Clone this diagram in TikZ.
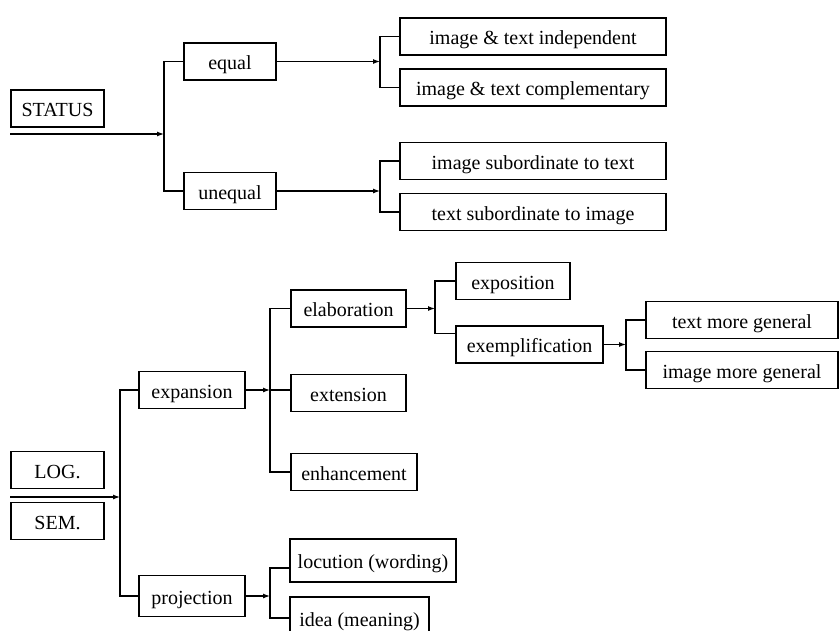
\documentclass[tikz,border=0pt]{standalone}
\usepackage{fontspec}
\setmainfont{Liberation Serif}
\usetikzlibrary{arrows.meta}

\begin{document}
\begin{tikzpicture}[x=1pt,y=-1pt,
        box/.style={draw, line width=1.2pt, minimum height=37pt, inner sep=0pt, text height=20pt, text depth=4pt, font=\fontsize{20}{24}\selectfont},
        link/.style={line width=1.2pt},
        arr/.style={link, -{Latex[length=7pt,width=5pt]}}]
        \useasboundingbox (0,0) rectangle (840,630);
        \clip (0,0) rectangle (840,630);

        % Status system
        \node[box, minimum width=93pt] (status) at (57.5,108.5) {STATUS};
        \node[box, minimum width=92pt] (equal) at (230,61.5) {equal};
        \node[box, minimum width=92pt] (unequal) at (230,191) {unequal};
        \node[box, minimum width=266pt] (indep) at (533,36.5) {image \& text independent};
        \node[box, minimum width=266pt] (compl) at (533,87.5) {image \& text complementary};
        \node[box, minimum width=266pt] (imgsub) at (533,161) {image subordinate to text};
        \node[box, minimum width=266pt] (txtsub) at (533,212) {text subordinate to image};

        % Logico-semantic system
        \node[box, minimum width=93pt] (log) at (57.5,470) {LOG.};
        \node[box, minimum width=93pt] (sem) at (57.5,521) {SEM.};
        \node[box, minimum width=106pt] (expansion) at (192,390) {expansion};
        \node[box, minimum width=106pt, minimum height=41pt] (projection) at (192,596) {projection};
        \node[box, minimum width=115pt] (elab) at (348.5,308.5) {elaboration};
        \node[box, minimum width=115pt] (ext) at (348.5,393) {extension};
        \node[box, minimum width=126pt] (enh) at (354,472) {enhancement};
        \node[box, minimum width=114pt] (expo) at (513,281) {exposition};
        \node[box, minimum width=147pt] (exempl) at (529.5,344.5) {exemplification};
        \node[box, minimum width=192pt] (txtgen) at (742,320) {text more general};
        \node[box, minimum width=192pt] (imggen) at (742,370) {image more general};
        \node[box, minimum width=166pt, minimum height=43pt] (locution) at (373,560.5) {locution (wording)};
        \node[box, minimum width=139pt, minimum height=42pt] (idea) at (359.5,618) {idea (meaning)};

        % Forks
        \coordinate (f1) at (164,134);
        \coordinate (f2) at (380,61.5);
        \coordinate (f3) at (380,191);
        \coordinate (f4) at (120,497);
        \coordinate (f5) at (270,390);
        \coordinate (f6) at (435,308.5);
        \coordinate (f7) at (626,344.5);
        \coordinate (f8) at (270,596);

        % Status connectors
        \draw[arr] (status.west |- f1) -- (f1);
        \draw[link] (equal.west) -| (f1) |- (unequal.west);
        \draw[arr] (equal.east) -- (f2);
        \draw[link] (indep.west) -| (f2) |- (compl.west);
        \draw[arr] (unequal.east) -- (f3);
        \draw[link] (imgsub.west) -| (f3) |- (txtsub.west);

        % Logico-semantic connectors
        \draw[arr] (log.west |- f4) -- (f4);
        \draw[link] (expansion.west) -| (f4) |- (projection.west);
        \draw[arr] (expansion.east) -- (f5);
        \draw[link] (elab.west) -| (f5) |- (enh.west);
        \draw[link] (f5) -- (f5 -| ext.west);
        \draw[arr] (elab.east) -- (f6);
        \draw[link] (expo.west) -| (f6) |- ([yshift=11pt]exempl.west);
        \draw[arr] (exempl.east) -- (f7);
        \draw[link] (txtgen.west) -| (f7) |- (imggen.west);
        \draw[arr] (projection.east) -- (f8);
        \draw[link] ([yshift=-7.5pt]locution.west) -| (f8) |- (idea.west);
    \end{tikzpicture}
\end{document}
